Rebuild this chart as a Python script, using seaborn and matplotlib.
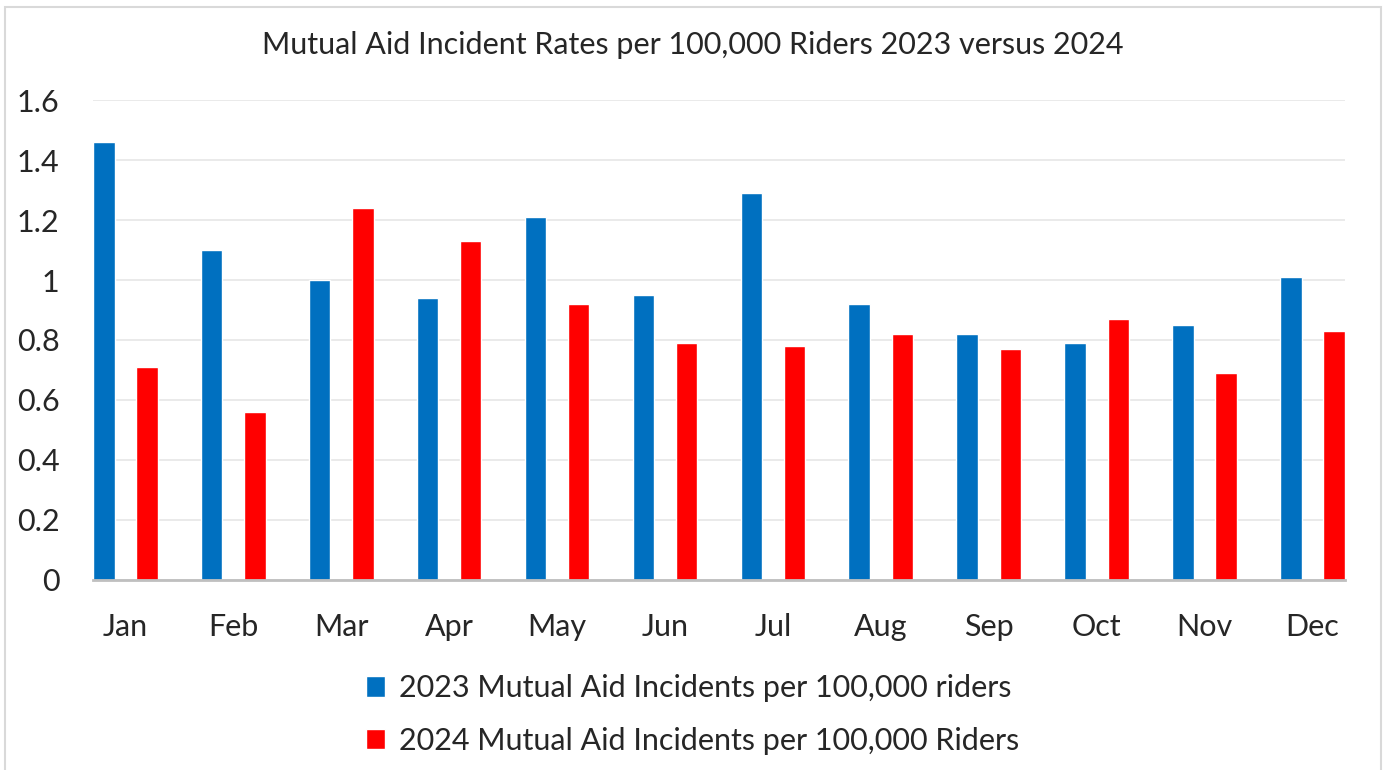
import matplotlib
matplotlib.use("Agg")
import matplotlib.pyplot as plt
import seaborn as sns
import pandas as pd
from matplotlib.patches import Rectangle

# -------------------------------------------------------
# DATA
# -------------------------------------------------------
months = ["Jan", "Feb", "Mar", "Apr", "May", "Jun",
          "Jul", "Aug", "Sep", "Oct", "Nov", "Dec"]
rates_2023 = [1.46, 1.10, 1.00, 0.94, 1.21, 0.95, 1.29, 0.92, 0.82, 0.79, 0.85, 1.01]
rates_2024 = [0.71, 0.56, 1.24, 1.13, 0.92, 0.79, 0.78, 0.82, 0.77, 0.87, 0.69, 0.83]
label_2023 = "2023 Mutual Aid Incidents per 100,000 riders"
label_2024 = "2024 Mutual Aid Incidents per 100,000 Riders"
y_ticks = [0, 0.2, 0.4, 0.6, 0.8, 1.0, 1.2, 1.4, 1.6]
y_tick_labels = ["0", "0.2", "0.4", "0.6", "0.8", "1", "1.2", "1.4", "1.6"]

df = pd.DataFrame({
    "month": months * 2,
    "rate": rates_2023 + rates_2024,
    "series": [label_2023] * 12 + [label_2024] * 12,
})

sns.set_theme(style="white")
plt.rcParams["font.family"] = ["Lato", "DejaVu Sans"]

fig = plt.figure(figsize=(13.85, 7.7), dpi=100)
ax = fig.add_axes([0.0671, 0.2468, 0.904, 0.6233])

sns.barplot(
    data=df, x="month", y="rate", hue="series",
    palette={label_2023: "#0070C0", label_2024: "#FF0000"},
    width=0.8, gap=0.5, saturation=1, errorbar=None, ax=ax,
)

ax.set_xlim(-0.3, 11.3)
ax.set_ylim(0, 1.6)
ax.set_yticks(y_ticks)
ax.set_yticklabels(y_tick_labels, fontsize=22)
ax.tick_params(axis="x", labelsize=22, pad=24, length=0)
ax.tick_params(axis="y", pad=24, length=0)
ax.set_xlabel("")
ax.set_ylabel("")
ax.yaxis.grid(True, color="#E6E6E6", linewidth=1.2)
ax.set_axisbelow(True)
for side in ["top", "right", "left"]:
    ax.spines[side].set_visible(False)
ax.spines["bottom"].set_color("#BFBFBF")
ax.spines["bottom"].set_linewidth(2)

# legend below the plot, one entry per row
handles, labels = ax.get_legend_handles_labels()
ax.get_legend().remove()
fig.legend(handles, labels, loc="center", bbox_to_anchor=(0.5, 0.072),
           frameon=False, fontsize=22, handlelength=0.65, handleheight=0.65,
           handletextpad=0.45, labelspacing=0.8)

fig.text(0.5, 0.941, "Mutual Aid Incident Rates per 100,000 Riders 2023 versus 2024",
         ha="center", va="center", fontsize=22)

# thin light frame around the whole chart
fig.patches.append(Rectangle((5 / 1385, -0.01), 1376 / 1385, 1.01 - 7 / 770,
                             transform=fig.transFigure, fill=False,
                             edgecolor="#D9D9D9", linewidth=1.5))

fig.savefig("out.png", dpi=100)
